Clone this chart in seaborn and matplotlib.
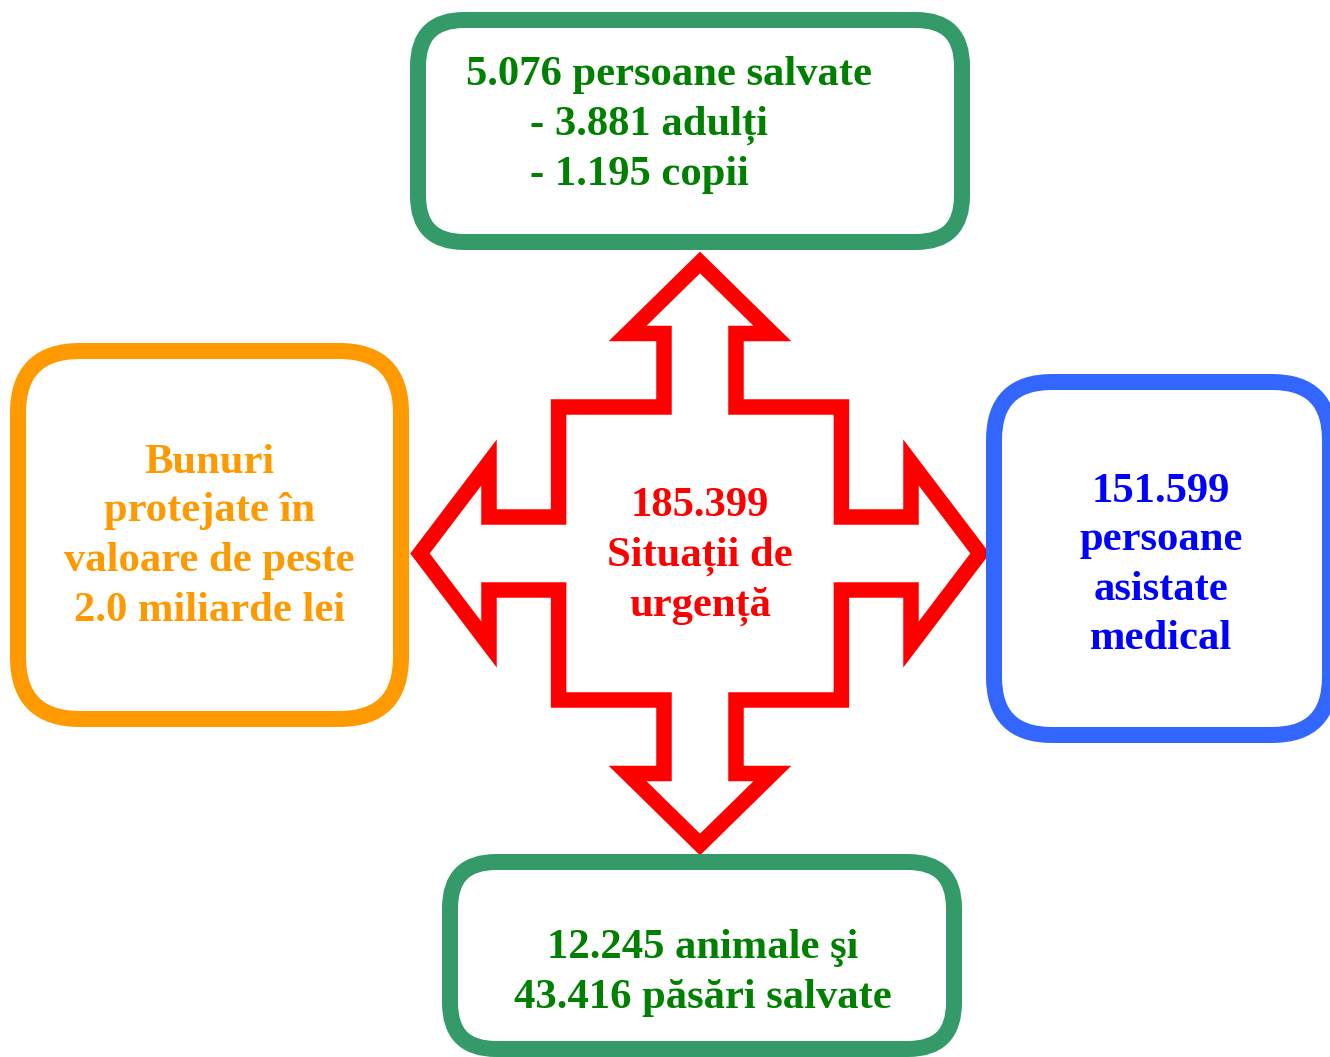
import matplotlib

matplotlib.use("Agg")

import matplotlib.pyplot as plt
import seaborn as sns
from matplotlib.patches import FancyBboxPatch, Polygon

# texts of the diagram
center_lines = ["185.399", "Situații de", "urgență"]
top_lines = ["5.076 persoane salvate", "- 3.881 adulți", "- 1.195 copii"]
left_lines = ["Bunuri", "protejate în", "valoare de peste", "2.0 miliarde lei"]
right_lines = ["151.599", "persoane", "asistate", "medical"]
bottom_lines = ["12.245 animale şi", "43.416 păsări salvate"]

GREEN_EDGE = "#359A6A"
GREEN_TEXT = "#008000"
ORANGE = "#FF9900"
BLUE_EDGE = "#3366FF"
BLUE_TEXT = "#0000FF"
RED = "#FF0000"

sns.set_theme(style="white")
plt.rcParams["font.family"] = ["Liberation Serif", "DejaVu Serif"]

W, H = 1330, 1057
fig = plt.figure(figsize=(W / 100, H / 100), dpi=100)
ax = fig.add_axes([0, 0, 1, 1])
ax.set_xlim(0, W)
ax.set_ylim(H, 0)
ax.axis("off")

PX = 72 / 100  # points per pixel
FS = 30.7


def box(x0, y0, x1, y1, color, r):
    ax.add_patch(FancyBboxPatch((x0, y0), x1 - x0, y1 - y0,
                                boxstyle=f"round,pad=0,rounding_size={r}",
                                facecolor="white", edgecolor=color,
                                linewidth=16 * PX, zorder=2))


def lines(items, x, baselines, color, ha="center"):
    for t, yb in zip(items, baselines):
        ax.text(x, yb, t, ha=ha, va="baseline", color=color,
                fontsize=FS, fontweight="bold", zorder=5)


# four-way arrow (outline), centred at (cx, cy)
cx, cy = 700, 553.5
bx, by = 141.4, 146.5
sv, sh = 36, 36.5
vb, vw, vt = 220, 72.4, 291
hb, hw, ht = 211, 91, 280
pts = [
    (cx, cy - vt), (cx + vw, cy - vb), (cx + sv, cy - vb), (cx + sv, cy - by),
    (cx + bx, cy - by), (cx + bx, cy - sh), (cx + hb, cy - sh), (cx + hb, cy - hw),
    (cx + ht, cy), (cx + hb, cy + hw), (cx + hb, cy + sh), (cx + bx, cy + sh),
    (cx + bx, cy + by), (cx + sv, cy + by), (cx + sv, cy + vb), (cx + vw, cy + vb),
    (cx, cy + vt), (cx - vw, cy + vb), (cx - sv, cy + vb), (cx - sv, cy + by),
    (cx - bx, cy + by), (cx - bx, cy + sh), (cx - hb, cy + sh), (cx - hb, cy + hw),
    (cx - ht, cy), (cx - hb, cy - hw), (cx - hb, cy - sh), (cx - bx, cy - sh),
    (cx - bx, cy - by), (cx - sv, cy - by), (cx - sv, cy - vb), (cx - vw, cy - vb),
]
ax.add_patch(Polygon(pts, closed=True, fill=False, edgecolor=RED,
                     linewidth=15.5 * PX, joinstyle="miter", zorder=1))

# boxes
box(418, 20, 962, 242, GREEN_EDGE, 46)
box(18, 351, 401, 719, ORANGE, 62)
box(994, 382, 1330, 735, BLUE_EDGE, 58)
box(450, 862, 954, 1049, GREEN_EDGE, 46)

# texts
lines(center_lines, 700, [515.5, 565.7, 616], RED)
ax.text(466, 85, top_lines[0], ha="left", va="baseline", color=GREEN_TEXT,
        fontsize=FS, fontweight="bold", zorder=5)
lines(top_lines[1:], 530, [135, 185], GREEN_TEXT, ha="left")
lines(left_lines, 209.5, [472.7, 520.7, 570.7, 620.7], ORANGE)
lines(right_lines, 1161, [501.7, 550, 600, 649], BLUE_TEXT)
lines(bottom_lines, 703, [958.3, 1008.3], GREEN_TEXT)

fig.savefig("out.png", dpi=100, facecolor="white")
plt.close(fig)
